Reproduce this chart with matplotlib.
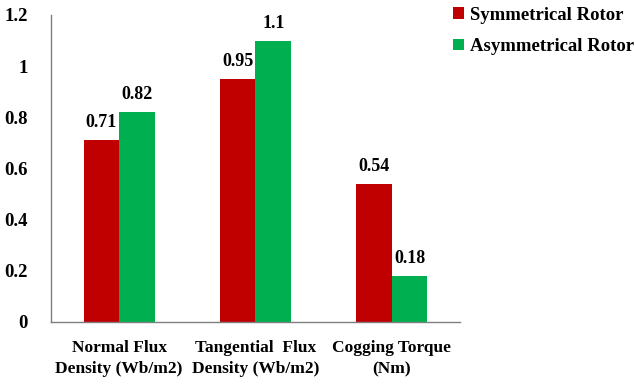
import matplotlib
matplotlib.use("Agg")
import matplotlib.pyplot as plt
import numpy as np

categories = ["Normal Flux\nDensity (Wb/m2)", "Tangential  Flux\nDensity (Wb/m2)", "Cogging Torque\n(Nm)"]
symmetrical = [0.71, 0.95, 0.54]
asymmetrical = [0.82, 1.1, 0.18]
series_names = ["Symmetrical Rotor", "Asymmetrical Rotor"]
yticks = [0, 0.2, 0.4, 0.6, 0.8, 1, 1.2]
ytick_labels = ["0", "0.2", "0.4", "0.6", "0.8", "1", "1.2"]

red = "#C00000"
green = "#00B050"

plt.rcParams["font.family"] = ["Liberation Serif", "DejaVu Serif"]
plt.rcParams["font.weight"] = "bold"

fig = plt.figure(figsize=(6.34, 3.86), dpi=100)
ax = fig.add_axes([51 / 634, 1 - 322 / 386, (460 - 51) / 634, (322 - 15) / 386])

x = np.arange(len(categories))
w = 0.26
b1 = ax.bar(x - w / 2, symmetrical, w, color=red, label=series_names[0])
b2 = ax.bar(x + w / 2, asymmetrical, w, color=green, label=series_names[1])

for bars, vals in ((b1, symmetrical), (b2, asymmetrical)):
    for rect, v in zip(bars, vals):
        ax.text(rect.get_x() + rect.get_width() / 2, v + 0.035, f"{v:g}",
                ha="center", va="bottom", fontsize=13, fontweight="bold")

ax.set_xlim(-0.5, len(categories) - 0.5)
ax.set_ylim(0, 1.2)
ax.set_yticks(yticks)
ax.set_yticklabels(ytick_labels, fontsize=13.5, fontweight="bold")
ax.set_xticks(x)
ax.set_xticklabels(categories, fontsize=12.5, fontweight="bold", linespacing=1.45)
ax.tick_params(axis="y", length=0, pad=17)
ax.tick_params(axis="x", length=0, pad=13)

for s in ("top", "right"):
    ax.spines[s].set_visible(False)
for s in ("left", "bottom"):
    ax.spines[s].set_color("#7f7f7f")
    ax.spines[s].set_linewidth(1.0)

leg = fig.legend(handles=[b1, b2], labels=series_names, loc="upper left",
                 bbox_to_anchor=(453 / 634, 1 - 7 / 386), frameon=False,
                 borderaxespad=0, borderpad=0,
                 fontsize=13.5, handlelength=0.6, handleheight=0.6,
                 handletextpad=0.3, labelspacing=0.75)
for t in leg.get_texts():
    t.set_fontweight("bold")

fig.savefig("out.png", dpi=100)
